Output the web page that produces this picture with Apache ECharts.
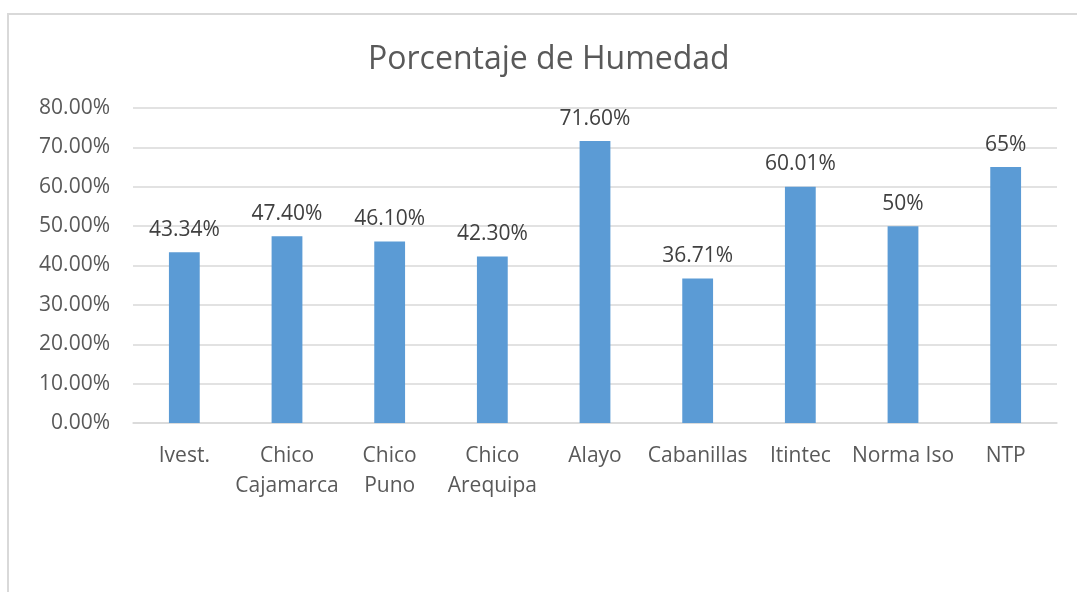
<!DOCTYPE html>
<html>
<head>
<meta charset="utf-8">
<script src="https://cdn.jsdelivr.net/npm/echarts@6/dist/echarts.min.js"></script>
<style>
html,body{margin:0;padding:0;background:#fff;}
#frame{position:absolute;left:7px;top:13px;width:1200px;height:700px;border:2px solid #d9d9d9;box-sizing:border-box;}
#c{position:absolute;left:0;top:0;width:1077px;height:592px;}
</style>
</head>
<body>
<div id="frame"></div>
<div id="c"></div>
<script>
const categories = ['Ivest.', 'Chico\nCajamarca', 'Chico\nPuno', 'Chico\nArequipa', 'Alayo', 'Cabanillas', 'Itintec', 'Norma Iso', 'NTP'];
const values = [43.34, 47.40, 46.10, 42.30, 71.60, 36.71, 60.01, 50, 65];
const valueLabels = ['43.34%', '47.40%', '46.10%', '42.30%', '71.60%', '36.71%', '60.01%', '50%', '65%'];
const yTicks = [0, 10, 20, 30, 40, 50, 60, 70, 80];

const FONT = 'Open Sans';
const chart = echarts.init(document.getElementById('c'), null, {renderer: 'canvas'});
chart.setOption({
  backgroundColor: 'transparent',
  animation: false,
  title: {
    text: 'Porcentaje de Humedad',
    left: 368,
    top: 44,
    padding: 0,
    textStyle: {fontFamily: FONT, fontSize: 32, fontWeight: 'normal', color: '#595959'}
  },
  grid: {left: 133, right: 20, top: 108, bottom: 169, containLabel: false},
  xAxis: {
    type: 'category',
    data: categories,
    axisLine: {lineStyle: {color: '#d9d9d9', width: 1.5}},
    axisTick: {show: false},
    axisLabel: {fontFamily: FONT, fontSize: 21, color: '#595959', margin: 18, lineHeight: 30, interval: 0}
  },
  yAxis: {
    type: 'value',
    min: 0, max: 80, interval: 10,
    axisLine: {show: false},
    axisTick: {show: false},
    splitLine: {lineStyle: {color: '#d9d9d9', width: 1.5}},
    axisLabel: {fontFamily: FONT, fontSize: 21, color: '#595959', margin: 23,
      formatter: v => yTicks.includes(v) ? v.toFixed(2) + '%' : ''}
  },
  series: [{
    type: 'bar',
    data: values,
    barWidth: '30%',
    itemStyle: {color: '#5b9bd5'},
    label: {
      show: true, position: 'top', distance: 12,
      fontFamily: FONT, fontSize: 21, color: '#404040',
      formatter: p => valueLabels[p.dataIndex]
    }
  }]
});
</script>
</body>
</html>
